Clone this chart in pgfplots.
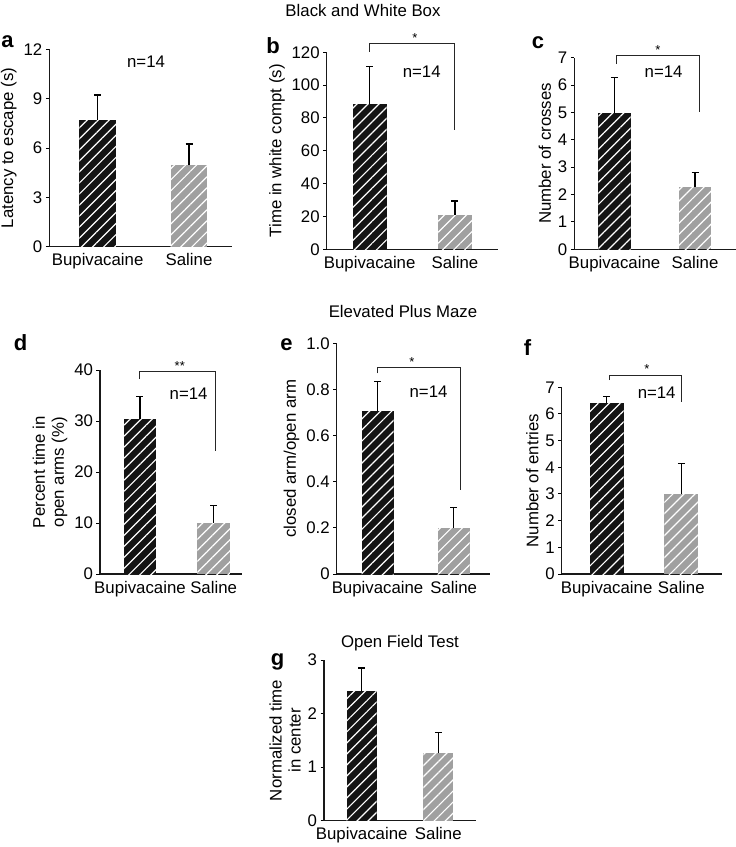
\documentclass[border=0pt]{standalone}
\usepackage{fontspec}
\setmainfont{Liberation Sans}
\usepackage{pgfplots}
\pgfplotsset{compat=1.18}
\usetikzlibrary{patterns.meta}

\definecolor{bupi}{HTML}{141414}
\definecolor{sal}{HTML}{A0A0A0}
\newcommand{\fsz}{\fontsize{16.8}{19}\selectfont}
\newcommand{\lett}{\bfseries\fontsize{22}{22}\selectfont}
\newcommand{\sfz}{\fontsize{13}{13}\selectfont}

\tikzset{brk/.style={line width=1pt, black!85}}
\pgfplotsset{
  panel/.style={
    scale only axis, anchor=south west, clip=false,
    axis lines*=left, ymin=0,
    xtick={0,1}, xticklabels={Bupivacaine,Saline},
    x tick style={draw=none},
    tick align=outside, major tick length=3.5pt,
    y tick style={line width=1pt, black},
    axis line style={line width=1.2pt, black!90},
    font=\fsz, tick label style={font=\fsz},
    ylabel style={font=\fsz, align=center},
    /pgf/number format/assume math mode=true,
  },
  errs/.style={
    error bars/.cd, y dir=plus, y explicit,
    error bar style={line width=1.2pt, black},
    error mark options={rotate=90, mark size=3.5pt, line width=1.2pt, black},
  },
  bup/.style={ybar, bar shift=0pt, fill=bupi, draw=none,
    postaction={pattern={Lines[angle=45, distance=7.8pt, line width=1.2pt]}, pattern color=white},
    errs},
  salb/.style={ybar, bar shift=0pt, fill=sal, draw=none,
    postaction={pattern={Lines[angle=45, distance=7.8pt, line width=1.2pt]}, pattern color=white},
    errs},
}

\begin{document}
\begin{tikzpicture}
\useasboundingbox (0,0) rectangle (736pt,-847pt);

% section titles and panel letters
\node[anchor=base, font=\fsz] at (363pt,-16pt) {Black and White Box};
\node[anchor=base, font=\fsz] at (403pt,-317.5pt) {Elevated Plus Maze};
\node[anchor=base, font=\fsz] at (400pt,-647.5pt) {Open Field Test};
\node[anchor=base, font=\lett] at (7.5pt,-47pt) {a};
\node[anchor=base, font=\lett] at (273pt,-53pt) {b};
\node[anchor=base, font=\lett] at (538pt,-48.5pt) {c};
\node[anchor=base, font=\lett] at (20.5pt,-350pt) {d};
\node[anchor=base, font=\lett] at (286.5pt,-350pt) {e};
\node[anchor=base, font=\lett] at (527.5pt,-355pt) {f};
\node[anchor=base, font=\lett] at (277.5pt,-665pt) {g};

% a
\begin{axis}[panel, at={(49.3pt,-246.7pt)}, width=182.4pt, height=197.4pt,
  xmin=-0.529, xmax=1.467, ymax=12, ytick={0,3,6,9,12}, bar width=36.7pt,
  ylabel={Latency to escape (s)}]
\addplot[bup] coordinates {(0,7.70) +- (0,1.52)};
\addplot[salb] coordinates {(1,4.95) +- (0,1.29)};
\node at (axis cs:0.53,11.25) {n=14};
\end{axis}

% b
\begin{axis}[panel, at={(326.7pt,-249.3pt)}, width=171.6pt, height=197pt,
  xmin=-0.504, xmax=1.508, ymax=120, ytick={0,20,...,120}, bar width=34pt,
  ylabel={Time in white compt (s)}]
\addplot[bup] coordinates {(0,88.3) +- (0,22.9)};
\addplot[salb] coordinates {(1,20.9) +- (0,8.5)};
\draw[brk] (axis cs:0,120.4) |- (axis cs:1,125.5) -- (axis cs:1,72.7);
\node[anchor=south, inner sep=1pt, font=\sfz] at (axis cs:0.53,125.5) {*};
\node at (axis cs:0.61,108.2) {n=14};
\end{axis}

% c
\begin{axis}[panel, at={(574.3pt,-249.3pt)}, width=161.7pt, height=191.6pt,
  xmin=-0.499, xmax=1.509, ymax=7, ytick={0,...,7}, bar width=32.4pt,
  ylabel={Number of crosses}]
\addplot[bup] coordinates {(0,4.99) +- (0,1.28)};
\addplot[salb] coordinates {(1,2.29) +- (0,0.51)};
\draw[brk] (axis cs:0.02,6.77) |- (axis cs:1.05,7.07) -- (axis cs:1.05,5.03);
\node[anchor=south, inner sep=1pt, font=\sfz] at (axis cs:0.54,7.07) {*};
\node at (axis cs:0.61,6.49) {n=14};
\end{axis}

% d
\begin{axis}[panel, at={(100pt,-574pt)}, width=141.7pt, height=204pt,
  xmin=-0.543, xmax=1.381, ymax=40, ytick={0,10,...,40}, bar width=32.5pt,
  ylabel={Percent time in\\open arms (\%)}]
\addplot[bup] coordinates {(0,30.3) +- (0,4.5)};
\addplot[salb] coordinates {(1,10.06) +- (0,3.44)};
\draw[brk] (axis cs:0,38.2) |- (axis cs:1.028,39.67) -- (axis cs:1.028,24.2);
\node[anchor=south, inner sep=1pt, font=\sfz] at (axis cs:0.54,39.67) {**};
\node at (axis cs:0.66,35.4) {n=14};
\end{axis}

% e
\begin{axis}[panel, at={(336.7pt,-574pt)}, width=153.3pt, height=230.7pt,
  xmin=-0.536, xmax=1.477, ymax=1, ytick={0,0.2,...,1.0},
  yticklabels={0,0.2,0.4,0.6,0.8,1.0}, bar width=32pt,
  ylabel={closed arm/open arm}]
\addplot[bup] coordinates {(0,0.707) +- (0,0.127)};
\addplot[salb] coordinates {(1,0.20) +- (0,0.087)};
\draw[brk] (axis cs:0,0.87) |- (axis cs:1.093,0.894) -- (axis cs:1.093,0.364);
\node[anchor=south, inner sep=1pt, font=\sfz] at (axis cs:0.45,0.894) {*};
\node at (axis cs:0.67,0.79) {n=14};
\end{axis}

% f
\begin{axis}[panel, at={(561.7pt,-574pt)}, width=160pt, height=186.7pt,
  xmin=-0.602, xmax=1.541, ymax=7, ytick={0,...,7}, bar width=33.7pt,
  ylabel={Number of entries}]
\addplot[bup] coordinates {(0,6.42) +- (0,0.23)};
\addplot[salb] coordinates {(1,3.01) +- (0,1.14)};
\draw[brk] (axis cs:0.035,7.27) |- (axis cs:1.005,7.46) -- (axis cs:1.005,6.46);
\node[anchor=south, inner sep=1pt, font=\sfz] at (axis cs:0.54,7.46) {*};
\node at (axis cs:0.67,6.80) {n=14};
\end{axis}

% g
\begin{axis}[panel, at={(324pt,-820.7pt)}, width=152pt, height=160.7pt,
  xmin=-0.492, xmax=1.492, ymax=3, ytick={0,1,2,3}, bar width=30pt,
  ylabel={Normalized time\\in center}]
\addplot[bup] coordinates {(0,2.42) +- (0,0.43)};
\addplot[salb] coordinates {(1,1.26) +- (0,0.39)};
\end{axis}
\end{tikzpicture}
\end{document}
